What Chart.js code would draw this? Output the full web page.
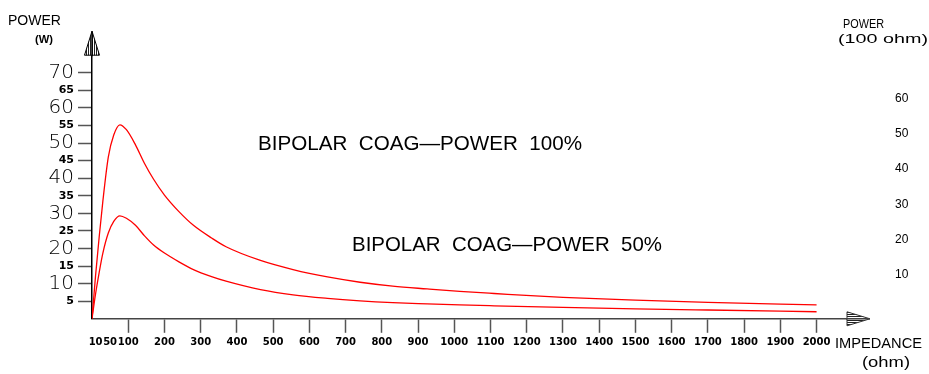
<!DOCTYPE html>
<html lang="en">
<head>
<meta charset="UTF-8">
<title>Bipolar coag power vs impedance</title>
<script src="https://cdn.jsdelivr.net/npm/chart.js"></script>
<style>
  body { margin: 0; background: #fff; }
</style>
</head>
<body>
<canvas id="powerChart" width="929" height="374"></canvas>
<script>
// load impedance (ohm) and output power (W) along both curves
const impedance = [0, 10, 20, 30, 45, 60, 77, 95, 120, 145, 170, 200, 240, 280, 330, 370, 465, 555, 650, 740, 830, 925, 1015, 1110, 1300, 1500, 1700, 2000];
const power100  = [0, 12.5, 23.5, 33.5, 46, 52.3, 55.2, 53.8, 49.5, 44.2, 39.7, 35.2, 30.5, 26.6, 23.0, 20.5, 16.6, 14.0, 11.9, 10.4, 9.3, 8.5, 7.8, 7.2, 6.1, 5.3, 4.65, 3.95];
const power50   = [0, 7.2, 13.3, 18.7, 24.4, 27.7, 29.3, 28.6, 26.6, 23.6, 21.0, 18.7, 16.2, 14.0, 12.0, 10.7, 8.3, 6.8, 5.8, 5.1, 4.6, 4.25, 3.95, 3.7, 3.25, 2.85, 2.5, 2.0];

// axis tick labels
const impedanceTicks = [10, 50, 100, 200, 300, 400, 500, 600, 700, 800, 900, 1000, 1100, 1200, 1300, 1400, 1500, 1600, 1700, 1800, 1900, 2000];
const powerTicks = [5, 10, 15, 20, 25, 30, 35, 40, 45, 50, 55, 60, 65, 70];
const power100ohmTicks = [10, 20, 30, 40, 50, 60];

const curveLabels = ['BIPOLAR  COAG\u2014POWER  100%', 'BIPOLAR  COAG\u2014POWER  50%'];

const toPoints = ys => impedance.map((x, i) => ({ x: x, y: ys[i] }));

// text squeezed or stretched to a given width, left aligned on its baseline
function fitText(ctx, text, left, baseline, width, font) {
  ctx.font = font;
  const w = ctx.measureText(text).width;
  ctx.save();
  ctx.translate(left, baseline);
  ctx.scale(width / w, 1);
  ctx.textAlign = 'left';
  ctx.textBaseline = 'alphabetic';
  ctx.fillText(text, 0, 0);
  ctx.restore();
}

function hatch(ctx, vertical) {
  const c = document.createElement('canvas');
  c.width = vertical ? 2 : 1;
  c.height = vertical ? 1 : 2;
  const g = c.getContext('2d');
  g.fillStyle = '#fff';
  g.fillRect(0, 0, c.width, c.height);
  g.fillStyle = '#222';
  g.fillRect(0, 0, 1, 1);
  return ctx.createPattern(c, 'repeat');
}

const decorations = {
  id: 'decorations',
  afterDraw(chart) {
    const ctx = chart.ctx;
    const a = chart.chartArea;
    ctx.save();

    // arrow on the power axis
    ctx.strokeStyle = '#000';
    ctx.lineWidth = 1;
    ctx.beginPath();
    ctx.moveTo(a.left, a.top - 24);
    ctx.lineTo(a.left - 7.5, a.top);
    ctx.lineTo(a.left + 7.5, a.top);
    ctx.closePath();
    ctx.fillStyle = hatch(ctx, true);
    ctx.fill();
    ctx.stroke();
    ctx.lineWidth = 1.5;
    ctx.beginPath();
    ctx.moveTo(a.left, a.top + 1);
    ctx.lineTo(a.left, a.top - 24);
    ctx.stroke();

    // arrow on the impedance axis
    ctx.lineWidth = 1;
    ctx.strokeStyle = '#333';
    ctx.beginPath();
    ctx.moveTo(a.right + 23, a.bottom);
    ctx.lineTo(a.right, a.bottom - 7);
    ctx.lineTo(a.right, a.bottom + 7);
    ctx.closePath();
    ctx.fillStyle = hatch(ctx, false);
    ctx.fill();
    ctx.stroke();
    ctx.lineWidth = 1.5;
    ctx.strokeStyle = '#444';
    ctx.beginPath();
    ctx.moveTo(a.right - 1, a.bottom);
    ctx.lineTo(a.right + 23, a.bottom);
    ctx.stroke();

    // axis titles and curve captions
    ctx.fillStyle = '#000';
    fitText(ctx, 'POWER', 8, 25, 53, '15px "Liberation Sans"');
    fitText(ctx, '(W)', 35, 43, 18, 'bold 10px "Liberation Sans"');
    fitText(ctx, 'POWER', 843, 28, 41, '13px "Liberation Sans"');
    fitText(ctx, '(100 ohm)', 838, 43, 90, '13px "Liberation Sans"');
    fitText(ctx, 'IMPEDANCE', 835, 348, 87, '15px "Liberation Sans"');
    fitText(ctx, '(ohm)', 862, 367, 48, '15px "Liberation Sans"');
    fitText(ctx, curveLabels[0], 258, 150, 324, '21px "Liberation Sans"');
    fitText(ctx, curveLabels[1], 352, 251, 310, '21px "Liberation Sans"');
    ctx.restore();
  }
};

const ctx = document.getElementById('powerChart').getContext('2d');
new Chart(ctx, {
  type: 'line',
  data: {
    datasets: [
      { label: curveLabels[0], data: toPoints(power100), borderColor: '#ff0000', borderWidth: 1.3, pointRadius: 0, cubicInterpolationMode: 'monotone', yAxisID: 'y' },
      { label: curveLabels[1], data: toPoints(power50), borderColor: '#ff0000', borderWidth: 1.3, pointRadius: 0, cubicInterpolationMode: 'monotone', yAxisID: 'y' }
    ]
  },
  options: {
    responsive: false,
    animation: false,
    devicePixelRatio: 1,
    layout: { padding: { top: 48.6, left: 0, right: 0, bottom: 0 } },
    plugins: { legend: { display: false }, tooltip: { enabled: false } },
    scales: {
      x: {
        type: 'linear',
        position: 'bottom',
        min: 0,
        max: 2084,
        afterBuildTicks: s => { s.ticks = impedanceTicks.map(v => ({ value: v })); },
        afterFit: s => { s.height = 54; },
        border: { color: '#444', width: 1.5 },
        grid: {
          drawOnChartArea: false,
          tickLength: 14,
          tickWidth: 1.5,
          tickColor: c => (c.tick && c.tick.value < 100) ? 'rgba(0,0,0,0)' : '#555'
        },
        ticks: {
          autoSkip: false,
          maxRotation: 0,
          padding: 4,
          color: '#000',
          font: { family: 'DejaVu Sans', size: 10, weight: 'bold' },
          callback: v => String(v)
        }
      },
      y: {
        type: 'linear',
        position: 'left',
        min: 0,
        max: 75,
        afterBuildTicks: s => { s.ticks = powerTicks.map(v => ({ value: v })); },
        afterFit: s => { s.width = 92; },
        border: { color: '#000', width: 1.5 },
        grid: { drawOnChartArea: false, tickLength: 14, tickWidth: 1.5, tickColor: '#555' },
        ticks: {
          autoSkip: false,
          padding: 4,
          color: '#000',
          font: c => (c.tick && c.tick.value % 10 === 0)
            ? { family: 'DejaVu Sans', size: 20, weight: '200' }
            : { family: 'DejaVu Sans', size: 11, weight: 'bold' },
          callback: v => String(v)
        }
      },
      y1: {
        type: 'linear',
        position: 'right',
        min: -2.6,
        max: 72.4,
        afterBuildTicks: s => { s.ticks = power100ohmTicks.map(v => ({ value: v })); },
        afterFit: s => { s.width = 82; },
        border: { display: false },
        grid: { display: false, drawTicks: false },
        ticks: {
          autoSkip: false,
          padding: 48,
          color: '#000',
          font: { family: 'Liberation Sans', size: 12 },
          callback: v => String(v)
        }
      }
    }
  },
  plugins: [decorations]
});
</script>
</body>
</html>
